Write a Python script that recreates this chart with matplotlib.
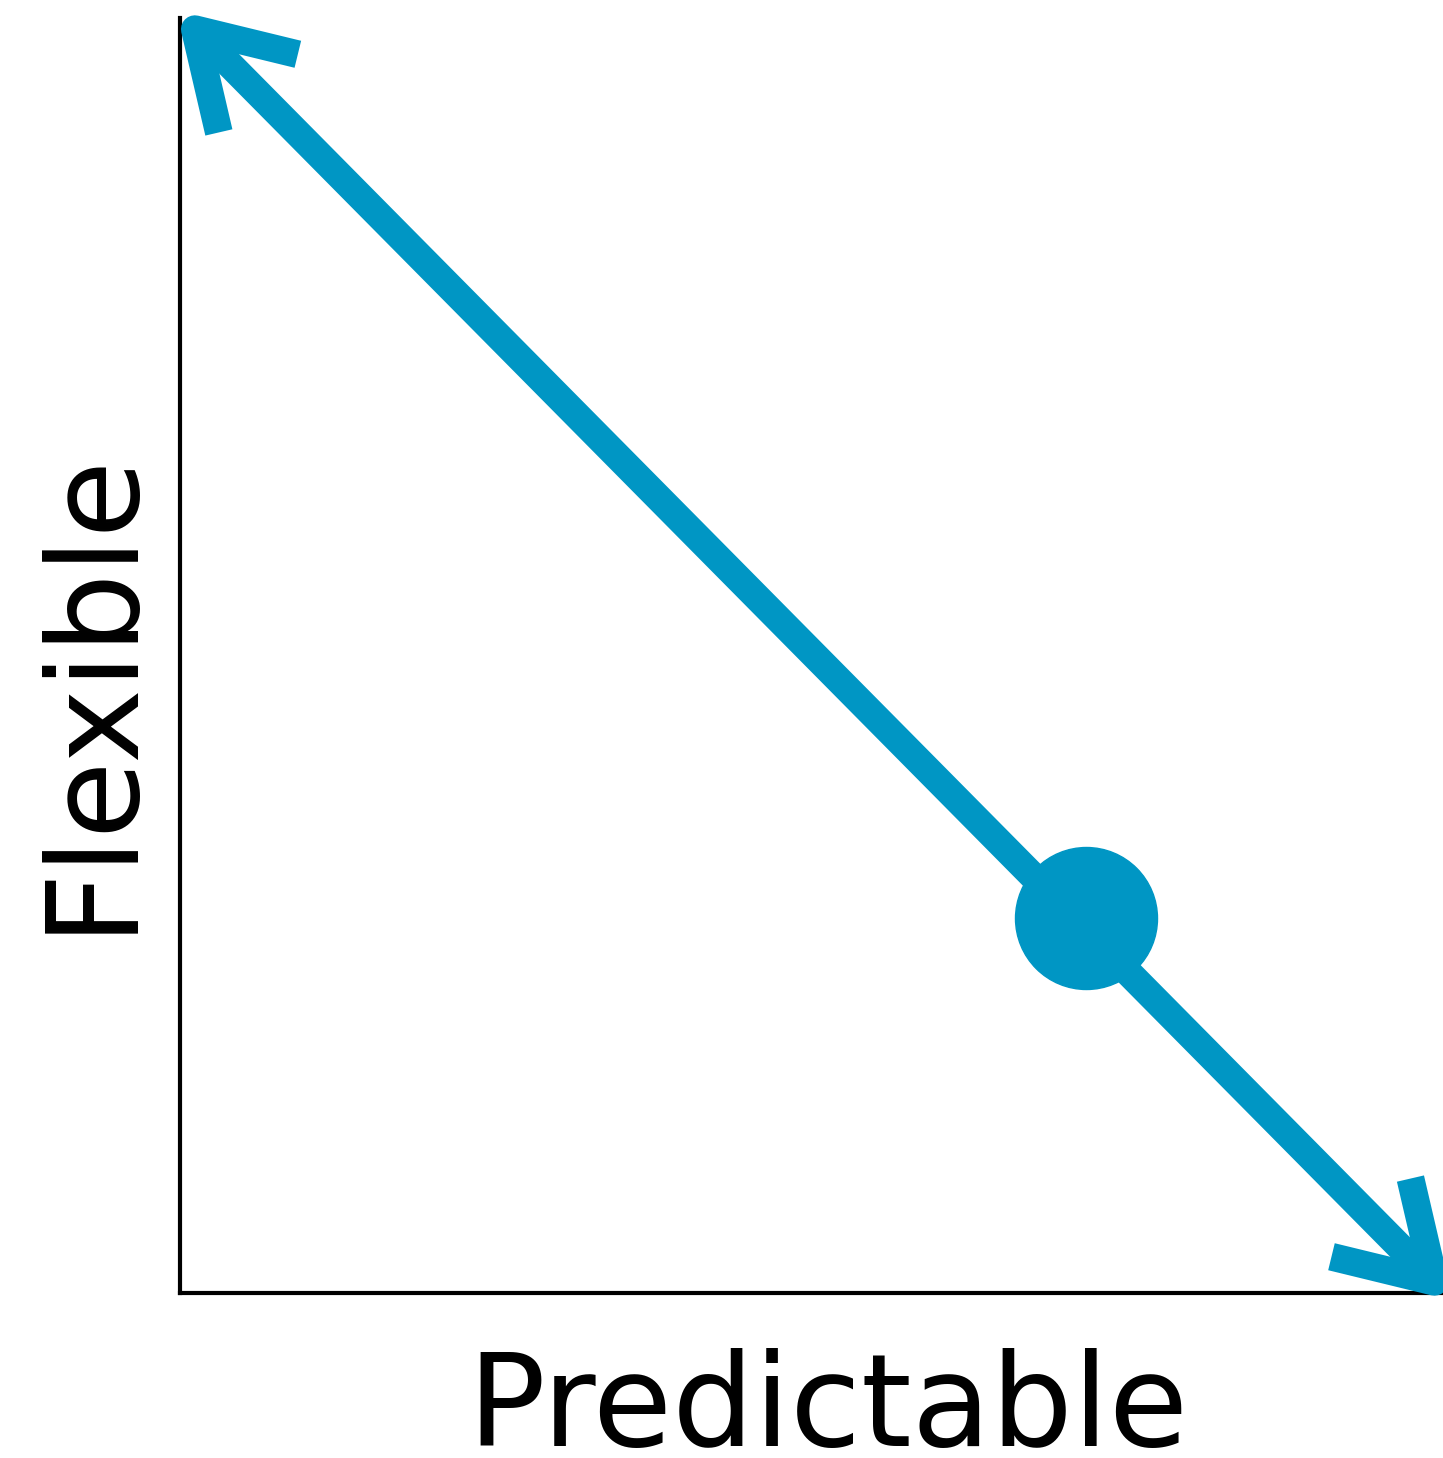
import matplotlib.pyplot as plt

# diagram data (axes fraction 0..1)
arrow_start = [-0.003, 1.006]
arrow_end = [1.008, -0.006]
dot_x = [0.717]
dot_y = [0.294]
x_label = 'Predictable'
y_label = 'Flexible'
blue = '#0096c4'

fig = plt.figure(figsize=(14.43, 14.58), dpi=100)
ax = fig.add_axes([180/1443, 165/1458, 1263/1443, 1275/1458])
ax.set_xlim(0, 1)
ax.set_ylim(0, 1)
ax.spines['top'].set_visible(False)
ax.spines['right'].set_visible(False)
ax.spines['left'].set_linewidth(3)
ax.spines['bottom'].set_linewidth(3)
ax.set_xticks([])
ax.set_yticks([])

# double headed arrow
ax.annotate('', xy=arrow_end, xytext=arrow_start,
            arrowprops=dict(arrowstyle='<->,head_length=1.3,head_width=0.8',
                            color=blue, lw=20, mutation_scale=50,
                            joinstyle='round', capstyle='butt',
                            shrinkA=0, shrinkB=0),
            annotation_clip=False)

# the point on the line
ax.scatter(dot_x, dot_y, s=(142*0.72)**2, color=blue, zorder=5, clip_on=False)

fig.text(828/1443, 1 - 1446/1458, x_label, fontsize=93, ha='center', va='baseline',
         family='DejaVu Sans')
fig.text(92/1443, 1 - 690/1458, y_label, fontsize=91, ha='center', va='center',
         rotation=90, family='DejaVu Sans')

fig.savefig('out.png', dpi=100)
